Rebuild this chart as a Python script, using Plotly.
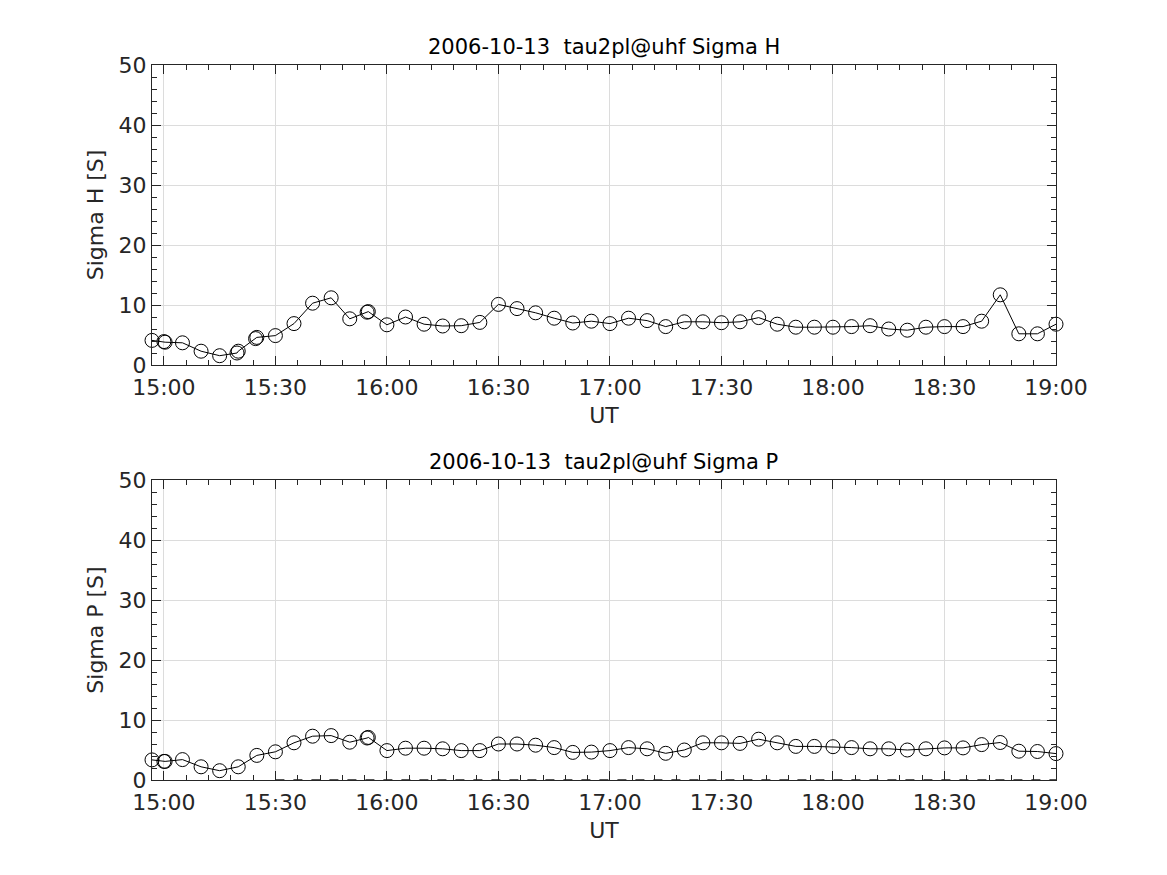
import plotly.graph_objects as go

DATE = "2006-10-13"

# ---- data ----
times_h = ["14:56:48", "15:00:00", "15:00:20", "15:05:00", "15:10:00", "15:15:00",
           "15:19:40", "15:20:00", "15:24:40", "15:25:00", "15:30:00", "15:35:00",
           "15:40:00", "15:45:00", "15:50:00", "15:54:40", "15:55:00",
           "16:00:00", "16:05:00", "16:10:00", "16:15:00", "16:20:00", "16:25:00",
           "16:30:00", "16:35:00", "16:40:00", "16:45:00", "16:50:00", "16:55:00",
           "17:00:00", "17:05:00", "17:10:00", "17:15:00", "17:20:00", "17:25:00",
           "17:30:00", "17:35:00", "17:40:00", "17:45:00", "17:50:00", "17:55:00",
           "18:00:00", "18:05:00", "18:10:00", "18:15:00", "18:20:00", "18:25:00",
           "18:30:00", "18:35:00", "18:40:00", "18:45:00", "18:50:00", "18:55:00",
           "19:00:00"]
sigma_h = [4.1, 3.9, 3.8, 3.7, 2.3, 1.55, 2.0, 2.3, 4.4, 4.6, 4.9, 6.9,
           10.3, 11.2, 7.7, 8.8, 8.9,
           6.7, 8.0, 6.8, 6.5, 6.55, 7.1, 10.1, 9.4, 8.7, 7.8, 7.0, 7.3,
           6.9, 7.8, 7.4, 6.4, 7.2, 7.2, 7.05, 7.2, 7.9, 6.8, 6.3, 6.3,
           6.3, 6.4, 6.55, 6.0, 5.8, 6.3, 6.4, 6.4, 7.3, 11.7, 5.2, 5.2,
           6.8]

times_p = ["14:56:48", "15:00:00", "15:00:20", "15:05:00", "15:10:00", "15:15:00",
           "15:20:00", "15:25:00", "15:30:00", "15:35:00", "15:40:00", "15:45:00",
           "15:50:00", "15:54:40", "15:55:00",
           "16:00:00", "16:05:00", "16:10:00", "16:15:00", "16:20:00", "16:25:00",
           "16:30:00", "16:35:00", "16:40:00", "16:45:00", "16:50:00", "16:55:00",
           "17:00:00", "17:05:00", "17:10:00", "17:15:00", "17:20:00", "17:25:00",
           "17:30:00", "17:35:00", "17:40:00", "17:45:00", "17:50:00", "17:55:00",
           "18:00:00", "18:05:00", "18:10:00", "18:15:00", "18:20:00", "18:25:00",
           "18:30:00", "18:35:00", "18:40:00", "18:45:00", "18:50:00", "18:55:00",
           "19:00:00"]
sigma_p = [3.35, 3.1, 3.1, 3.4, 2.2, 1.55, 2.2, 4.1, 4.7, 6.2, 7.3, 7.4,
           6.3, 7.0, 7.1,
           4.9, 5.3, 5.3, 5.2, 4.9, 4.9, 6.0, 6.0, 5.8, 5.4, 4.6, 4.65,
           4.9, 5.4, 5.2, 4.45, 5.0, 6.2, 6.2, 6.1, 6.8, 6.2, 5.6, 5.6,
           5.55, 5.4, 5.2, 5.2, 5.0, 5.2, 5.35, 5.35, 5.9, 6.25, 4.8, 4.75,
           4.4]

zero_times = ["15:30:00", "19:00:00"]
zero_vals = [0, 0]

x_range = ["14:56:48", "19:00:00"]
titles = ["2006-10-13  tau2pl@uhf Sigma H", "2006-10-13  tau2pl@uhf Sigma P"]
ylabels = ["Sigma H [S]", "Sigma P [S]"]


def ts(lst):
    return [f"{DATE} {t}" for t in lst]


W, H = 1167, 875
FONT = "DejaVu Sans"
TXT = "#262626"

fig = go.Figure()

marker = dict(symbol="circle-open", size=14, color="black", line=dict(width=1, color="black"))

fig.add_trace(go.Scatter(x=ts(times_h), y=sigma_h, mode="lines+markers",
                         line=dict(color="black", width=1), marker=marker, cliponaxis=False,
                         xaxis="x", yaxis="y", showlegend=False))
fig.add_trace(go.Scatter(x=ts(zero_times), y=zero_vals, mode="lines",
                         line=dict(color="#555555", width=2, dash="dash"),
                         xaxis="x2", yaxis="y2", showlegend=False))
fig.add_trace(go.Scatter(x=ts(times_p), y=sigma_p, mode="lines+markers",
                         line=dict(color="black", width=1), marker=marker, cliponaxis=False,
                         xaxis="x2", yaxis="y2", showlegend=False))

xdom = [152 / W, 1056 / W]
ydoms = [[1 - 365 / H, 1 - 65 / H], [1 - 780 / H, 1 - 480 / H]]

common_x = dict(
    type="date", range=ts(x_range), tickformat="%H:%M",
    tick0=f"{DATE} 15:00:00", dtick=30 * 60 * 1000,
    showline=True, linecolor=TXT, linewidth=1, mirror="ticks",
    ticks="inside", ticklen=9, tickcolor=TXT, tickwidth=1,
    showgrid=True, gridcolor="#dcdcdc", gridwidth=1,
    minor=dict(ticks="inside", ticklen=5, tickcolor=TXT, dtick=6 * 60 * 1000,
               tick0=f"{DATE} 15:00:00", showgrid=False),
    tickfont=dict(family=FONT, size=22, color=TXT), ticklabelstandoff=3,
    title=dict(text="UT", font=dict(family=FONT, size=22, color=TXT), standoff=8),
    zeroline=False, domain=xdom, automargin=False,
)
common_y = dict(
    range=[0, 50], dtick=10, tick0=0,
    showline=True, linecolor=TXT, linewidth=1, mirror="ticks",
    ticks="inside", ticklen=9, tickcolor=TXT, tickwidth=1,
    showgrid=True, gridcolor="#dcdcdc", gridwidth=1,
    minor=dict(ticks="inside", ticklen=5, tickcolor=TXT, dtick=2, showgrid=False),
    tickfont=dict(family=FONT, size=22, color=TXT),
    zeroline=False, automargin=False,
)

fig.update_layout(
    width=W, height=H, margin=dict(l=0, r=0, t=0, b=0),
    paper_bgcolor="white", plot_bgcolor="white",
    font=dict(family=FONT, color=TXT),
    xaxis=dict(common_x, anchor="y"),
    yaxis=dict(common_y, domain=ydoms[0], anchor="x",
               title=dict(text=ylabels[0], font=dict(family=FONT, size=22, color=TXT), standoff=8)),
    xaxis2=dict(common_x, anchor="y2"),
    yaxis2=dict(common_y, domain=ydoms[1], anchor="x2",
                title=dict(text=ylabels[1], font=dict(family=FONT, size=22, color=TXT), standoff=8)),
)

for i, t in enumerate(titles):
    fig.add_annotation(text=t, xref="paper", yref="paper",
                       x=(xdom[0] + xdom[1]) / 2, y=ydoms[i][1],
                       yshift=4, xanchor="center", yanchor="bottom", showarrow=False,
                       font=dict(family=FONT, size=21, color="black"))

fig.write_html("out.html", config={"displayModeBar": False},
               post_script="document.body.style.margin='0';document.body.style.overflow='hidden';")
